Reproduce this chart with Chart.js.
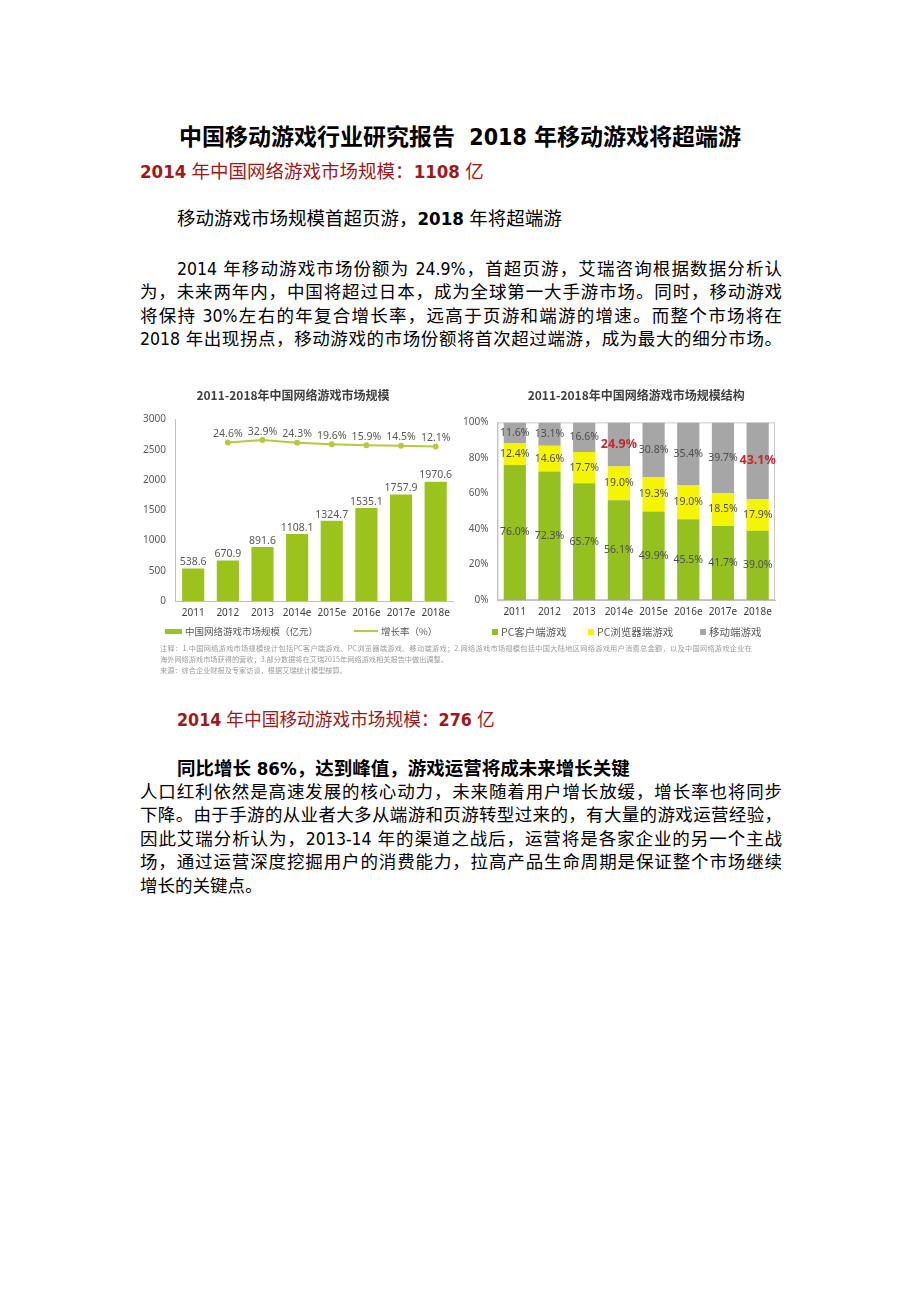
<!DOCTYPE html>
<html lang="zh-CN">
<head>
  <meta charset="UTF-8">
  <title>中国移动游戏行业研究报告 2018 年移动游戏将超端游</title>
  <script src="https://cdn.jsdelivr.net/npm/chart.js"></script>
  <style>
    body {
      margin: 0;
      width: 920px;
      height: 1302px;
      position: relative;
      background: #fff;
      color: #000;
      font-family: "DejaVu Sans Condensed", "Noto Sans CJK SC", sans-serif;
    }
    .t { position: absolute; white-space: nowrap; }
    .b { font-weight: bold; }
    .red { color: #a01818; }
    .p {
      position: absolute;
      left: 140px;
      width: 642px;
      font-size: 17.5px;
      line-height: 24px;
      text-align: justify;
      text-align-last: justify;
    }
    canvas { position: absolute; }
    .note {
      position: absolute;
      left: 160px;
      font-family: "Noto Sans CJK SC", sans-serif;
      font-size: 7.2px;
      line-height: 9px;
      color: #9a9a9a;
    }
    .lg {
      position: absolute;
      font-family: "Noto Sans CJK SC", sans-serif;
      color: #595959;
      white-space: nowrap;
      line-height: 14px;
    }
    .sw { display: inline-block; vertical-align: middle; margin-right: 3px; position: relative; top: -1px; }
  </style>
</head>
<body>
  <div class="t b" style="top:122px;left:0;width:920px;text-align:center;font-size:23px;line-height:30px">中国移动游戏行业研究报告&nbsp; 2018 年移动游戏将超端游</div>
  <div class="t red" style="top:160px;left:140px;font-size:18.5px;line-height:24px"><span class="b">2014</span> 年中国网络游戏市场规模：<span class="b">1108</span> 亿</div>
  <div class="t" style="top:207px;left:177px;font-size:18.5px;line-height:24px">移动游戏市场规模首超页游，<span class="b">2018</span> 年将超端游</div>

  <div class="p" style="top:257px;left:177px;width:605px">2014 年移动游戏市场份额为 24.9%，首超页游，艾瑞咨询根据数据分析认</div>
  <div class="p" style="top:280px">为，未来两年内，中国将超过日本，成为全球第一大手游市场。同时，移动游戏</div>
  <div class="p" style="top:304px">将保持 30%左右的年复合增长率，远高于页游和端游的增速。而整个市场将在</div>
  <div class="p" style="top:327px">2018 年出现拐点，移动游戏的市场份额将首次超过端游，成为最大的细分市场。</div>

  <canvas id="sizeChart" width="331" height="247" style="left:129px;top:380px"></canvas>
  <canvas id="shareChart" width="330" height="248" style="left:452px;top:380px"></canvas>

  <div class="lg" style="left:165px;top:624px;font-size:9.5px">
    <span class="sw" style="width:17px;height:5px;background:#9bc31c"></span>中国网络游戏市场规模（亿元）
  </div>
  <div class="lg" style="left:354px;top:624px;font-size:9.5px">
    <span class="sw" style="width:24px;height:2px;background:#b4cc3c"></span>增长率（%）
  </div>
  <div class="lg" style="left:492px;top:625px;font-size:10.5px">
    <span class="sw" style="width:6px;height:6px;background:#94c11f"></span>PC客户端游戏
  </div>
  <div class="lg" style="left:588px;top:625px;font-size:10.5px">
    <span class="sw" style="width:6px;height:6px;background:#f5f500"></span>PC浏览器端游戏
  </div>
  <div class="lg" style="left:700px;top:625px;font-size:10.5px">
    <span class="sw" style="width:6px;height:6px;background:#a6a6a6"></span>移动端游戏
  </div>

  <div class="note" style="top:644px;width:592px;text-align:justify;text-align-last:justify">注释：1.中国网络游戏市场规模统计包括PC客户端游戏、PC浏览器端游戏、移动端游戏；2.网络游戏市场规模包括中国大陆地区网络游戏用户消费总金额，以及中国网络游戏企业在</div>
  <div class="note" style="top:655px;white-space:nowrap">海外网络游戏市场获得的营收；3.部分数据将在艾瑞2015年网络游戏相关报告中做出调整。</div>
  <div class="note" style="top:666px;white-space:nowrap">来源：综合企业财报及专家访谈，根据艾瑞统计模型核算。</div>

  <div class="t red" style="top:708px;left:177px;font-size:17.7px;line-height:24px"><span class="b">2014</span> 年中国移动游戏市场规模：<span class="b">276</span> 亿</div>
  <div class="t b" style="top:757px;left:177px;font-size:18.5px;line-height:24px">同比增长 86%，达到峰值，游戏运营将成未来增长关键</div>

  <div class="p" style="top:780px">人口红利依然是高速发展的核心动力，未来随着用户增长放缓，增长率也将同步</div>
  <div class="p" style="top:803px">下降。由于手游的从业者大多从端游和页游转型过来的，有大量的游戏运营经验，</div>
  <div class="p" style="top:827px">因此艾瑞分析认为，2013-14 年的渠道之战后，运营将是各家企业的另一个主战</div>
  <div class="p" style="top:850px">场，通过运营深度挖掘用户的消费能力，拉高产品生命周期是保证整个市场继续</div>
  <div class="p" style="top:874px;text-align-last:left">增长的关键点。</div>

  <script>
    // 数据
    const years = ['2011', '2012', '2013', '2014e', '2015e', '2016e', '2017e', '2018e'];
    const marketSize = [538.6, 670.9, 891.6, 1108.1, 1324.7, 1535.1, 1757.9, 1970.6];
    const growthRate = [null, 24.6, 32.9, 24.3, 19.6, 15.9, 14.5, 12.1];
    const sizeTicks = [0, 500, 1000, 1500, 2000, 2500, 3000];

    const pcClient = [76.0, 72.3, 65.7, 56.1, 49.9, 45.5, 41.7, 39.0];
    const pcBrowser = [12.4, 14.6, 17.7, 19.0, 19.3, 19.0, 18.5, 17.9];
    const mobile = [11.6, 13.1, 16.6, 24.9, 30.8, 35.4, 39.7, 43.1];
    const shareTicks = [0, 20, 40, 60, 80, 100];
    const highlightYears = ['2014e', '2018e'];

    Chart.defaults.font.family = '"Noto Sans", "Noto Sans CJK SC", sans-serif';
    Chart.defaults.color = '#595959';

    const titleFont = { size: 12, weight: 'bold', family: '"Noto Sans CJK SC", sans-serif' };
    const noGrid = { display: false, drawTicks: false };
    const xTicks = { color: '#404040', font: { size: 10 }, padding: 6, maxRotation: 0, minRotation: 0, autoSkip: false };

    // 柱顶和折线点上的数值
    const sizeLabels = {
      id: 'sizeLabels',
      afterDatasetsDraw(chart) {
        const ctx = chart.ctx;
        ctx.save();
        ctx.font = '10.5px "Noto Sans", sans-serif';
        ctx.fillStyle = '#595959';
        ctx.textAlign = 'center';
        ctx.textBaseline = 'bottom';
        chart.data.datasets.forEach((ds, i) => {
          chart.getDatasetMeta(i).data.forEach((el, j) => {
            const v = ds.data[j];
            if (v == null) return;
            if (ds.type === 'line') ctx.fillText(v.toFixed(1) + '%', el.x, el.y - 3);
            else ctx.fillText(v.toFixed(1), el.x, el.y - 1);
          });
        });
        ctx.restore();
      }
    };

    // 堆积柱中间的百分比
    const shareLabels = {
      id: 'shareLabels',
      afterDatasetsDraw(chart) {
        const ctx = chart.ctx;
        ctx.save();
        ctx.textAlign = 'center';
        ctx.textBaseline = 'middle';
        chart.data.datasets.forEach((ds, i) => {
          chart.getDatasetMeta(i).data.forEach((el, j) => {
            const v = ds.data[j];
            const hot = i === 2 && highlightYears.includes(years[j]);
            ctx.font = hot ? 'bold 12.5px "Noto Sans", sans-serif' : '10.5px "Noto Sans", sans-serif';
            ctx.fillStyle = hot ? '#c8262c' : '#4d4d4d';
            ctx.fillText(v.toFixed(1) + '%', el.x, (el.y + el.base) / 2);
          });
        });
        ctx.restore();
      }
    };

    const plotFrame = {
      id: 'plotFrame',
      beforeDatasetsDraw(chart) {
        const { ctx, chartArea: a } = chart;
        ctx.save();
        ctx.strokeStyle = '#c8c8c8';
        ctx.lineWidth = 1;
        ctx.strokeRect(a.left + 0.5, a.top + 0.5, a.width - 1, a.height - 1);
        ctx.restore();
      }
    };

    new Chart(document.getElementById('sizeChart'), {
      data: {
        labels: years,
        datasets: [
          {
            type: 'bar',
            label: '中国网络游戏市场规模（亿元）',
            data: marketSize,
            backgroundColor: '#9bc31c',
            barPercentage: 0.64,
            categoryPercentage: 1,
            yAxisID: 'y'
          },
          {
            type: 'line',
            label: '增长率（%）',
            data: growthRate,
            borderColor: '#b4cc3c',
            backgroundColor: '#b4cc3c',
            borderWidth: 2,
            pointRadius: 2,
            yAxisID: 'y2'
          }
        ]
      },
      options: {
        responsive: false,
        animation: false,
        devicePixelRatio: 1,
        layout: { padding: { left: 4, right: 7, top: 0, bottom: 2 } },
        plugins: {
          title: { display: true, text: '2011-2018年中国网络游戏市场规模', color: '#404040', font: titleFont, padding: { top: 8, bottom: 17 } },
          legend: { display: false },
          tooltip: { enabled: false }
        },
        scales: {
          x: {
            grid: noGrid,
            border: { color: '#bfbfbf' },
            ticks: xTicks
          },
          y: {
            min: sizeTicks[0],
            max: sizeTicks[sizeTicks.length - 1],
            afterBuildTicks: s => { s.ticks = sizeTicks.map(v => ({ value: v })); },
            grid: noGrid,
            border: { color: '#bfbfbf' },
            ticks: { color: '#595959', font: { size: 10 }, padding: 10, callback: v => String(v) }
          },
          y2: { display: false, min: -490, max: 100 }
        }
      },
      plugins: [sizeLabels]
    });

    new Chart(document.getElementById('shareChart'), {
      type: 'bar',
      data: {
        labels: years,
        datasets: [
          { label: 'PC客户端游戏', data: pcClient, backgroundColor: '#94c11f' },
          { label: 'PC浏览器端游戏', data: pcBrowser, backgroundColor: '#f5f500' },
          { label: '移动端游戏', data: mobile, backgroundColor: '#a6a6a6' }
        ]
      },
      options: {
        responsive: false,
        animation: false,
        devicePixelRatio: 1,
        datasets: { bar: { barPercentage: 0.64, categoryPercentage: 1 } },
        layout: { padding: { left: 2, right: 7, top: 0, bottom: 4 } },
        plugins: {
          title: { display: true, fullSize: false, text: '2011-2018年中国网络游戏市场规模结构', color: '#404040', font: titleFont, padding: { top: 8, bottom: 20 } },
          legend: { display: false },
          tooltip: { enabled: false }
        },
        scales: {
          x: {
            stacked: true,
            grid: noGrid,
            border: { color: '#bfbfbf' },
            ticks: xTicks
          },
          y: {
            stacked: true,
            min: shareTicks[0],
            max: shareTicks[shareTicks.length - 1],
            afterBuildTicks: s => { s.ticks = shareTicks.map(v => ({ value: v })); },
            grid: noGrid,
            border: { color: '#bfbfbf' },
            ticks: { color: '#595959', font: { size: 10 }, padding: 9, callback: v => v + '%' }
          }
        }
      },
      plugins: [plotFrame, shareLabels]
    });
  </script>
</body>
</html>
